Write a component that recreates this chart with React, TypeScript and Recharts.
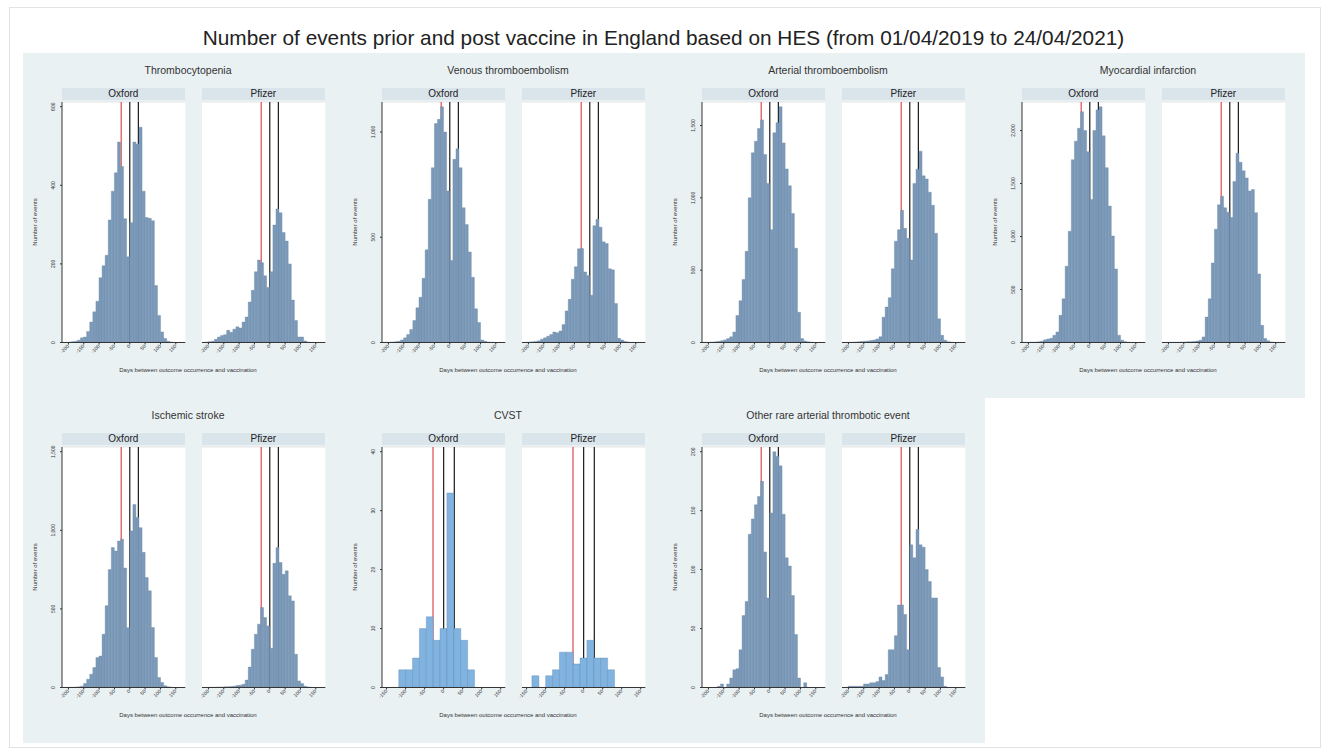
import React from "react";
import { BarChart, Bar, XAxis, YAxis, CartesianGrid, ReferenceLine } from "recharts";

const chartTitle =
  "Number of events prior and post vaccine in England based on HES (from 01/04/2019 to 24/04/2021)";
const vaccines = ["Oxford", "Pfizer"];
const xLabel = "Days between outcome occurrence and vaccination";
const yLabel = "Number of events";
// start of pre-risk window, vaccination day, end of risk window
const riskLines = [-28, 0, 28];

// common outcomes: 40 bins over the observed range
const wideRange = [-221, 181];
const wideBins = { start: -221, width: 10.05 };
const wideTicks = [-200, -150, -100, -50, 0, 50, 100, 150];
// CVST: few events, 12 wide bins
const cvstRange = [-162, 162];
const cvstBins = { start: -136, width: 18.07 };
const cvstTicks = [-150, -100, -50, 0, 50, 100, 150];

const thrombOxford = [0, 0, 1, 2, 3, 6, 12, 14, 28, 52, 78, 105, 165, 195, 222, 312, 385, 432, 510, 448, 315, 218, 305, 510, 505, 548, 385, 318, 316, 310, 145, 69, 27, 10, 3, 1, 0, 0, 0, 0];
const thrombPfizer = [0, 1, 2, 3, 8, 14, 18, 20, 31, 26, 34, 40, 37, 52, 65, 103, 133, 180, 210, 203, 170, 140, 180, 299, 340, 330, 280, 258, 200, 108, 56, 14, 14, 4, 1, 0, 0, 0, 0, 0];
const thrombTicks = [0, 200, 400, 600];

const vteOxford = [0, 1, 1, 2, 4, 6, 12, 22, 38, 62, 105, 165, 215, 305, 440, 680, 830, 1040, 1060, 1120, 1000, 720, 390, 870, 920, 830, 640, 560, 430, 310, 160, 95, 12, 6, 2, 1, 0, 0, 0, 0];
const vtePfizer = [0, 1, 2, 3, 5, 8, 16, 22, 30, 38, 50, 46, 55, 85, 150, 205, 300, 360, 445, 446, 335, 318, 225, 555, 585, 548, 478, 470, 350, 345, 185, 20, 12, 5, 2, 0, 0, 0, 0, 0];
const vteTicks = [0, 500, 1000];

const ateOxford = [0, 1, 2, 3, 5, 8, 12, 18, 27, 39, 73, 186, 289, 436, 630, 1000, 1311, 1391, 1480, 1539, 1300, 1100, 780, 1450, 1520, 1630, 1380, 1200, 1084, 891, 652, 209, 27, 11, 5, 2, 0, 0, 0, 0];
const atePfizer = [0, 0, 1, 2, 4, 5, 7, 9, 11, 14, 18, 25, 40, 175, 245, 310, 510, 700, 780, 914, 789, 720, 570, 1100, 1198, 1323, 1152, 1130, 1039, 948, 755, 164, 50, 16, 5, 2, 0, 0, 0, 0];
const ateTicks = [0, 500, 1000, 1500];

const miOxford = [0, 1, 2, 3, 4, 6, 12, 25, 33, 40, 69, 100, 256, 412, 720, 1050, 1725, 1900, 2022, 2178, 2000, 1800, 1350, 2000, 2194, 2225, 1950, 1650, 1287, 1006, 694, 69, 22, 8, 3, 1, 0, 0, 0, 0];
const miPfizer = [0, 0, 1, 1, 2, 3, 4, 5, 6, 8, 10, 14, 22, 53, 240, 412, 750, 1069, 1300, 1381, 1272, 1230, 1180, 1520, 1787, 1700, 1620, 1553, 1430, 1444, 1225, 647, 162, 37, 16, 5, 2, 0, 0, 0];
const miTicks = [0, 500, 1000, 1500, 2000];

const strokeOxford = [0, 0, 1, 1, 2, 4, 8, 25, 53, 85, 127, 191, 200, 339, 520, 750, 890, 869, 932, 943, 760, 380, 996, 1165, 1081, 1017, 860, 699, 615, 381, 191, 64, 32, 11, 4, 1, 0, 0, 0, 0];
const strokePfizer = [0, 0, 1, 1, 2, 3, 3, 4, 5, 6, 8, 12, 15, 21, 47, 130, 244, 339, 403, 509, 445, 392, 250, 790, 890, 795, 720, 742, 583, 551, 212, 42, 25, 8, 3, 1, 0, 0, 0, 0];
const strokeTicks = [0, 500, 1000, 1500];

const cvstOxford = [0, 3, 3, 5, 10, 12, 8, 10, 33, 10, 8, 3];
const cvstPfizer = [2, 0, 2, 3, 6, 6, 4, 5, 8, 5, 5, 3];
const cvstYTicks = [0, 10, 20, 30, 40];

const rareOxford = [0, 0, 0, 0, 0, 1, 3, 0, 3, 8, 15, 16, 32, 61, 73, 130, 143, 155, 162, 175, 115, 76, 148, 200, 196, 188, 147, 110, 103, 78, 45, 8, 0, 4, 0, 0, 0, 0, 0, 0];
const rarePfizer = [0, 0, 1, 1, 1, 1, 1, 3, 3, 4, 4, 5, 9, 6, 11, 32, 32, 44, 70, 70, 62, 32, 121, 110, 134, 121, 119, 100, 90, 76, 76, 17, 9, 1, 0, 0, 0, 0, 0, 0];
const rareTicks = [0, 50, 100, 150, 200];

const panels = [
  { name: "Thrombocytopenia", series: [thrombOxford, thrombPfizer], yTicks: thrombTicks, cvst: false },
  { name: "Venous thromboembolism", series: [vteOxford, vtePfizer], yTicks: vteTicks, cvst: false },
  { name: "Arterial thromboembolism", series: [ateOxford, atePfizer], yTicks: ateTicks, cvst: false },
  { name: "Myocardial infarction", series: [miOxford, miPfizer], yTicks: miTicks, cvst: false },
  { name: "Ischemic stroke", series: [strokeOxford, strokePfizer], yTicks: strokeTicks, cvst: false },
  { name: "CVST", series: [cvstOxford, cvstPfizer], yTicks: cvstYTicks, cvst: true },
  { name: "Other rare arterial thrombotic event", series: [rareOxford, rarePfizer], yTicks: rareTicks, cvst: false },
];

const FONT = "'Liberation Sans', Arial, sans-serif";
const REGION_LEFT = 23;
const COL_W = 320;
const ROW_TOP = [53, 398];
const ROW_H = 345;
const PLOT_OFF_Y = 48.7;
const PH = 240.5;
const PW = 123.3;
const FACET_OFF = [38.7, 178.7];
const YW = 20;
const XH = 26;
const RED = "#e0474c";

const fmt = (v: number) => v.toLocaleString("en-US");

const XTick = (props: any) => {
  const { x, y, payload } = props;
  return (
    <text x={x} y={y} transform={`rotate(-45 ${x} ${y})`} textAnchor="end" fontSize={5} fill="#333" fontFamily={FONT} dy="0.3em">
      {fmt(payload.value)}
    </text>
  );
};

const YTick = (props: any) => {
  const { x, y, payload } = props;
  return (
    <text x={x} y={y} transform={`rotate(-90 ${x} ${y})`} textAnchor="middle" fontSize={5} fill="#333" fontFamily={FONT}>
      {fmt(payload.value)}
    </text>
  );
};

// Stata draws xlines behind the bars, so each facet is two stacked charts
// sharing the same axes: grid + window lines underneath, bars + axes on top.
function Facet(props: any) {
  const { counts, bins, range, xTicks, yTicks, yMax, showY, left, top, cvst } = props;
  const data = counts.map((n: number, i: number) => ({ day: bins.start + bins.width * (i + 0.5), n }));
  const yw = showY ? YW : 0;
  const layer = (under: boolean) => (
    <div style={{ position: "absolute", left: 0, top: 0 }}>
      <BarChart
        width={PW + yw}
        height={PH + XH}
        data={data}
        margin={{ top: 0, right: 0, bottom: 0, left: 0 }}
        barCategoryGap={0}
        barGap={0}
      >
        {under && <CartesianGrid vertical={false} stroke="#e2e2e2" strokeWidth={0.8} fill="#ffffff" fillOpacity={1} />}
        <XAxis
          dataKey="day"
          type="number"
          domain={range}
          ticks={xTicks}
          interval={0}
          allowDataOverflow
          height={XH}
          tickSize={2}
          tickMargin={1}
          tick={under ? false : <XTick />}
          axisLine={under ? false : { stroke: "#333", strokeWidth: 1 }}
          tickLine={under ? false : { stroke: "#333" }}
        />
        <YAxis
          type="number"
          domain={[0, yMax]}
          ticks={yTicks}
          interval={0}
          allowDataOverflow
          width={yw}
          hide={!showY}
          tickSize={2}
          tickMargin={5}
          tick={under ? false : <YTick />}
          axisLine={under ? false : { stroke: "#333", strokeWidth: 1 }}
          tickLine={under ? false : { stroke: "#333" }}
        />
        {under &&
          riskLines.map((d, k) => (
            <ReferenceLine key={d} x={d} stroke={k === 0 ? RED : "#1a1a1a"} strokeWidth={1.2} />
          ))}
        {!under && (
          <Bar
            dataKey="n"
            fill={cvst ? "#80b3df" : "#7b99b8"}
            stroke={cvst ? "#5a83ab" : "#6686a6"}
            strokeWidth={0.35}
            isAnimationActive={false}
          />
        )}
      </BarChart>
    </div>
  );
  return (
    <div style={{ position: "absolute", left: left - yw, top, width: PW + yw, height: PH + XH }}>
      {layer(true)}
      {layer(false)}
    </div>
  );
}

function Panel({ panel, index }: any) {
  const row = index < 4 ? 0 : 1;
  const col = index < 4 ? index : index - 4;
  const colLeft = REGION_LEFT + COL_W * col;
  const plotTop = ROW_TOP[row] + PLOT_OFF_Y;
  const all = panel.series[0].concat(panel.series[1]);
  const yMax = Math.max(panel.yTicks[panel.yTicks.length - 1], ...all) * 1.02;
  const textStyle: React.CSSProperties = { position: "absolute", fontFamily: FONT, color: "#333", whiteSpace: "nowrap" };
  return (
    <>
      <div style={{ ...textStyle, left: colLeft, width: 330, top: plotTop - 38, textAlign: "center", fontSize: 10.5, lineHeight: "13px" }}>
        {panel.name}
      </div>
      {vaccines.map((v, k) => (
        <div
          key={v}
          style={{
            ...textStyle,
            left: colLeft + FACET_OFF[k],
            top: plotTop - 14,
            width: PW,
            height: 12.3,
            background: "#d9e4eb",
            textAlign: "center",
            fontSize: 10,
            lineHeight: "12.3px",
            color: "#222",
          }}
        >
          {v}
        </div>
      ))}
      {vaccines.map((v, k) => (
        <Facet
          key={v}
          counts={panel.series[k]}
          bins={panel.cvst ? cvstBins : wideBins}
          range={panel.cvst ? cvstRange : wideRange}
          xTicks={panel.cvst ? cvstTicks : wideTicks}
          yTicks={panel.yTicks}
          yMax={yMax}
          showY={k === 0}
          left={colLeft + FACET_OFF[k]}
          top={plotTop}
          cvst={panel.cvst}
        />
      ))}
      <div
        style={{
          ...textStyle,
          left: colLeft + 12 - 60,
          top: plotTop + PH / 2 - 5,
          width: 120,
          height: 10,
          lineHeight: "10px",
          textAlign: "center",
          fontSize: 6,
          transform: "rotate(-90deg)",
        }}
      >
        {yLabel}
      </div>
      <div style={{ ...textStyle, left: colLeft, width: 330, top: plotTop + PH + 24, textAlign: "center", fontSize: 6, lineHeight: "8px" }}>
        {xLabel}
      </div>
    </>
  );
}

export default function App() {
  return (
    <div style={{ position: "absolute", left: 0, top: 0, width: 1327, height: 753, background: "#fff", overflow: "hidden" }}>
      <style>{".recharts-surface{overflow:visible}"}</style>
      <div style={{ position: "absolute", left: 9, top: 7, width: 1310, height: 739, border: "1px solid #e3e3e3" }} />
      <div
        style={{
          position: "absolute",
          left: 0,
          width: 1327,
          top: 25,
          textAlign: "center",
          fontFamily: FONT,
          fontSize: 20.8,
          lineHeight: "26px",
          color: "#222",
        }}
      >
        {chartTitle}
      </div>
      <div style={{ position: "absolute", left: REGION_LEFT, top: ROW_TOP[0], width: COL_W * 4 + 2, height: ROW_H, background: "#eaf1f3" }} />
      <div style={{ position: "absolute", left: REGION_LEFT, top: ROW_TOP[1], width: COL_W * 3 + 2, height: ROW_H, background: "#eaf1f3" }} />
      {panels.map((p, i) => (
        <Panel key={p.name} panel={p} index={i} />
      ))}
    </div>
  );
}
